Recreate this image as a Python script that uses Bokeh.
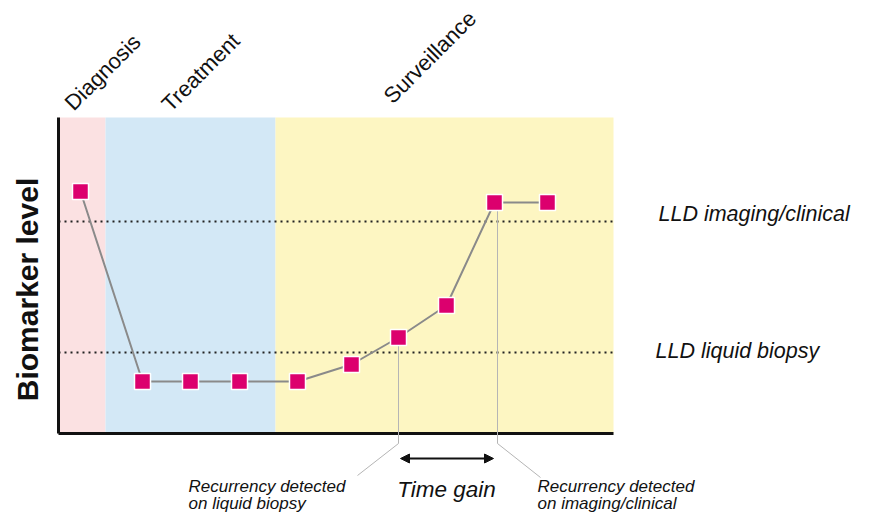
from bokeh.plotting import figure
from bokeh.models import Range1d, Arrow, NormalHead
from bokeh.core.properties import value
from bokeh.embed import file_html
from bokeh.resources import INLINE
import math

# ---- data (time in arbitrary units, biomarker level in arbitrary units) ----
time = [2.2, 8.4, 13.2, 18.1, 23.9, 29.3, 34.0, 38.8, 43.6, 48.9]
level = [24.2, 5.2, 5.2, 5.2, 5.2, 6.9, 9.6, 12.8, 23.1, 23.1]

phase_names = ["Diagnosis", "Treatment", "Surveillance"]
phase_start = [0.0, 4.7, 21.7]
phase_end = [4.7, 21.7, 55.5]
phase_colors = ["#fbe1e2", "#d3e8f6", "#fdf6c2"]
phase_top = 31.6

lld_names = ["LLD imaging/clinical", "LLD liquid biopsy"]
lld_levels = [21.2, 8.1]

liquid_idx = 6    # recurrency detected on liquid biopsy
imaging_idx = 8   # recurrency detected on imaging/clinical

FONT = "Liberation Sans"

p = figure(width=856, height=513, output_backend="svg", toolbar_location=None,
           x_axis_type=None, y_axis_type=None, min_border=0,
           x_range=Range1d(-5.8, 79.8), y_range=Range1d(-8.0, 43.3))
p.grid.visible = False
p.outline_line_color = None
p.background_fill_color = "white"
p.border_fill_color = "white"

# phase bands
p.quad(left=phase_start, right=phase_end, bottom=0, top=phase_top,
       fill_color=phase_colors, line_color=None)

# LLD dotted lines
x_end = phase_end[-1]
p.segment(x0=[0] * len(lld_levels), x1=[x_end] * len(lld_levels),
          y0=lld_levels, y1=lld_levels, line_color="#222222",
          line_width=2, line_dash="2 4")

# axes lines
p.segment(x0=[0, 0], y0=[0, 0], x1=[0, x_end], y1=[phase_top, 0],
          line_color="#111111", line_width=3)

# connector lines to annotations
p.line([time[liquid_idx], time[liquid_idx], 29.9],
       [level[liquid_idx], -1.0, -4.2], line_color="#b5b5b5", line_width=1)
p.line([time[imaging_idx] + 0.3, time[imaging_idx] + 0.3, 48.2],
       [level[imaging_idx], -1.0, -4.4], line_color="#b5b5b5", line_width=1)

# biomarker line + markers
p.line(time, level, line_color="#8a8a8a", line_width=2)
p.scatter(time, level, marker="square", size=16, fill_color="#dc006e",
          line_color="white", line_width=1.5)

# time gain arrow
p.add_layout(Arrow(x_start=time[liquid_idx] + 0.2, x_end=time[imaging_idx] - 0.1,
                   y_start=-2.5, y_end=-2.5, line_color="#111111", line_width=2,
                   start=NormalHead(size=9, fill_color="#111111", line_color="#111111"),
                   end=NormalHead(size=9, fill_color="#111111", line_color="#111111")))

# phase labels (rotated)
p.text(x=[1.0, 10.7, 32.9], y=[32.7, 32.6, 33.4], text=phase_names,
       angle=math.pi / 4, text_font=value(FONT), text_font_size="22px",
       text_align="left", text_baseline="alphabetic", text_color="#111111")

# LLD labels
p.text(x=[60.0, 59.7], y=[22.0, 8.3], text=lld_names, text_font=value(FONT),
       text_font_size="21.5px", text_font_style="italic", text_align="left",
       text_baseline="middle", text_color="#111111")

# y label
p.text(x=[-3.1], y=[14.4], text=["Biomarker level"], angle=math.pi / 2,
       text_font=value(FONT), text_font_size="30px", text_font_style="bold",
       text_align="center", text_baseline="middle", text_color="#111111")

# time gain label
p.text(x=[(time[liquid_idx] + time[imaging_idx]) / 2], y=[-5.6], text=["Time gain"],
       text_font=value(FONT), text_font_size="22.5px", text_font_style="italic",
       text_align="center", text_baseline="alphabetic", text_color="#111111")

# recurrency annotations
p.text(x=[13.0, 13.0, 47.9, 47.9], y=[-5.3, -7.0, -5.3, -7.0],
       text=["Recurrency detected", "on liquid biopsy",
             "Recurrency detected", "on imaging/clinical"],
       text_font=value(FONT), text_font_size="17px", text_font_style="italic",
       text_align="left", text_baseline="alphabetic", text_color="#111111")

open("out.html", "w").write(file_html(p, INLINE))
